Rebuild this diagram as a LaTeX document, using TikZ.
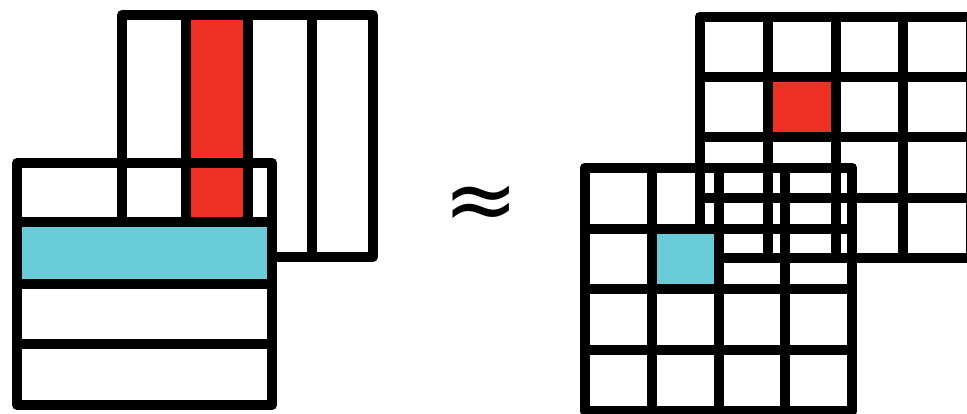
\documentclass[tikz,border=0pt]{standalone}
\usepackage{fontspec}
\newfontfamily\signfont{DejaVu Sans}
\definecolor{sliceRed}{HTML}{EE3124}
\definecolor{sliceCyan}{HTML}{69CAD8}
\begin{document}
\begin{tikzpicture}[x=1pt,y=-1pt,
  gridline/.style={line width=10pt, draw=black, line join=round, line cap=round},
  redcell/.style={fill=sliceRed},
  cyancell/.style={fill=sliceCyan},
  signtext/.style={inner sep=0pt, font=\signfont\fontsize{90}{90}\selectfont}]
\path[use as bounding box] (0,0) rectangle (967,414);

% ---- left: column-sliced matrix behind a row-sliced matrix ----
\fill[redcell] (186,15) rectangle (248,257);
\draw[gridline] (122,15) rectangle (373,257);
\foreach \x in {186,248,312}
  \draw[gridline] (\x,15) -- (\x,257);

\fill[white] (17,222) rectangle (272,405);
\fill[cyancell] (17,222) rectangle (272,284);
\draw[gridline] (17,163) rectangle (272,405);
\foreach \y in {222,284,344}
  \draw[gridline] (17,\y) -- (272,\y);

% ---- right: two overlapping 4x4 grids ----
\begin{scope}
\clip (0,0) rectangle (967,414);
\fill[redcell] (767.75,77.25) rectangle (835.5,137.5);
\foreach \i in {0,...,4} {
  \draw[gridline] ({700+67.75*\i},17) -- ({700+67.75*\i},258);
  \draw[gridline] (700,{17+60.25*\i}) -- (971,{17+60.25*\i});
}
\fill[cyancell] (651.75,229) rectangle (718.5,290);
\foreach \i in {0,...,4} {
  \draw[gridline] ({585+66.75*\i},168) -- ({585+66.75*\i},411);
  \draw[gridline] (585,{168+60.75*\i}) -- (852,{168+60.75*\i});
}
\end{scope}

% ---- approximation sign ----
\path (481,208) node[signtext] (approx) {≈};
\end{tikzpicture}
\end{document}
